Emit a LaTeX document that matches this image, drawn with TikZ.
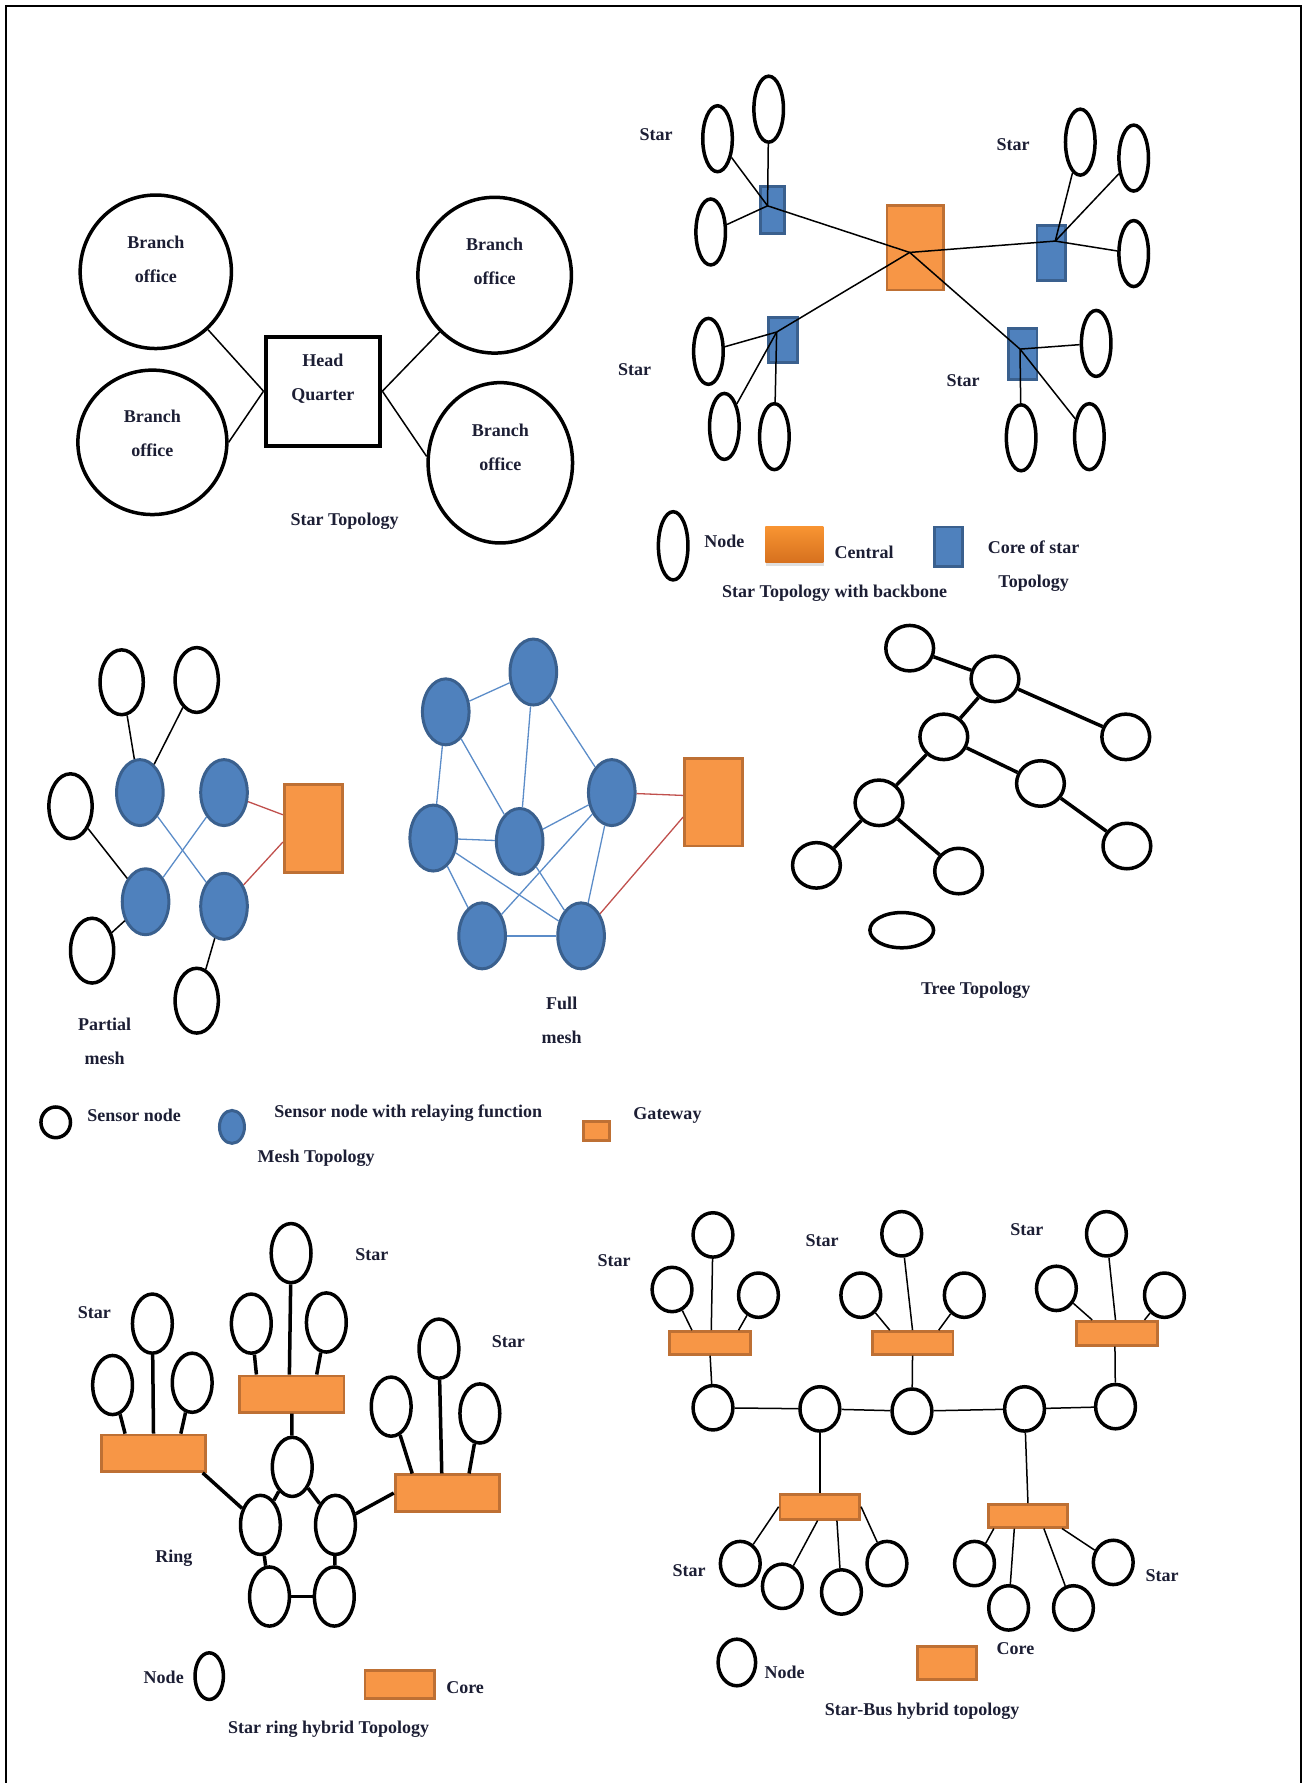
\documentclass[tikz,border=0pt]{standalone}
\usepackage{fontspec}
\setmainfont{Liberation Serif}
\usetikzlibrary{shapes.geometric,calc,shadows}
\definecolor{tcol}{RGB}{28,30,52}
\definecolor{ofill}{RGB}{247,150,70}
\definecolor{oline}{RGB}{190,112,52}
\definecolor{bfill}{RGB}{79,129,189}
\definecolor{bline}{RGB}{58,96,142}
\definecolor{rline}{RGB}{192,80,77}
\definecolor{mline}{RGB}{91,140,200}
\begin{document}
\begin{tikzpicture}[x=1.1366pt,y=-1.1366pt,
 ov/.style 2 args={ellipse, draw=black, fill=white, line width=3.5pt, inner sep=0pt, minimum width={#1*2.2732pt}, minimum height={#2*2.2732pt}},
 bov/.style 2 args={ellipse, draw=bline, fill=bfill, line width=3pt, inner sep=0pt, minimum width={#1*2.2732pt}, minimum height={#2*2.2732pt}},
 orect/.style 2 args={rectangle, draw=oline, fill=ofill, line width=2.8pt, inner sep=0pt, minimum width={#1*1.1366pt}, minimum height={#2*1.1366pt}},
 brect/.style 2 args={rectangle, draw=bline, fill=bfill, line width=2.8pt, inner sep=0pt, minimum width={#1*1.1366pt}, minimum height={#2*1.1366pt}},
 lbl/.style={font=\fontsize{18}{34}\selectfont\bfseries, text=tcol, inner sep=0pt, align=center},
 thinln/.style={line width=1.5pt, black},
 thickln/.style={line width=3.5pt, black},
 mln/.style={line width=1.3pt, mline},
 rln/.style={line width=1.3pt, rline}]
\useasboundingbox (0,0) rectangle (1149,1568);
\draw[line width=2pt] (5,1580) -- (5,5) -- (1144,5) -- (1144,1580);

% ---------------- Star topology ----------------
\node[ov={66.5}{67.5}] (bo1) at (137,239) {};
\node[ov={67.5}{68.5}] (bo2) at (435,242) {};
\node[ov={65.5}{63.5}] (bo3) at (134,389) {};
\node[ov={63.5}{70.5}] (bo4) at (440,407) {};
\node[draw, line width=4pt, fill=white, inner sep=0pt, minimum width={101*1.1366pt}, minimum height={96*1.1366pt}] (hq) at (284,344) {};
\draw[thinln] (bo1) -- (hq.west);
\draw[thinln] (bo3.east) -- (hq.west);
\draw[thinln] (bo2) -- (hq.east);
\draw[thinln] (bo4.175) -- (hq.east);
\node[lbl] (tbo1) at (137,228) {Branch\\office};
\node[lbl] (tbo2) at (435,230) {Branch\\office};
\node[lbl] (tbo3) at (134,381) {Branch\\office};
\node[lbl] (tbo4) at (440,393) {Branch\\office};
\node[lbl] (thq) at (284,333) {Head\\Quarter};
\node[lbl] (tst) at (303,458) {Star Topology};

% ---------------- Star topology with backbone ----------------
\node[orect={50}{74}] (cen) at (805,218) {};
\node[brect={21}{41}] (b1) at (679.5,184.5) {};
\node[brect={25}{49}] (b2) at (924.5,222.5) {};
\node[brect={25}{40}] (b3) at (688.5,299) {};
\node[brect={25}{45}] (b4) at (899.5,311.5) {};
\coordinate (hc) at (800,222);
\coordinate (h1) at (675,181);
\coordinate (h2) at (928,212);
\coordinate (h3) at (683,292);
\coordinate (h4) at (897,307);
\node[ov={13}{29}] (o11) at (631,122) {};
\node[ov={13}{29}] (o12) at (676,96) {};
\node[ov={13}{29}] (o13) at (625,204) {};
\node[ov={13}{29}] (o21) at (950,125) {};
\node[ov={13}{29}] (o22) at (997,139) {};
\node[ov={13}{29}] (o23) at (997,223) {};
\node[ov={13}{29}] (o31) at (623,309) {};
\node[ov={13}{29}] (o32) at (637,375) {};
\node[ov={13}{29}] (o33) at (681,384) {};
\node[ov={13}{29}] (o41) at (964,302) {};
\node[ov={13}{29}] (o42) at (898,385) {};
\node[ov={13}{29}] (o43) at (958,384) {};
\draw[thinln] (h1) -- (hc) -- (h2);
\draw[thinln] (h3) -- (hc) -- (h4);
\draw[thinln] (h1) -- (o11);
\draw[thinln] (h1) -- (o12);
\draw[thinln] (h1) -- (o13);
\draw[thinln] (h2) -- (o21);
\draw[thinln] (h2) -- (o22);
\draw[thinln] (h2) -- (o23);
\draw[thinln] (h3) -- (o31);
\draw[thinln] (h3) -- (o32);
\draw[thinln] (h3) -- (o33);
\draw[thinln] (h4) -- (o41);
\draw[thinln] (h4) -- (o42);
\draw[thinln] (h4) -- (o43);
\node[lbl] (ts1) at (577,118) {Star};
\node[lbl] (ts2) at (891,127) {Star};
\node[lbl] (ts3) at (558,325) {Star};
\node[lbl] (ts4) at (847,335) {Star};
% legend
\node[ov={13}{30}] (lg1) at (592,480) {};
\node[lbl] (lgt1) at (637,476) {Node};
\node[rectangle, inner sep=0pt, minimum width={51*1.1366pt}, minimum height={32*1.1366pt}, top color={rgb,255:red,248;green,148;blue,50}, bottom color={rgb,255:red,214;green,112;blue,30}, drop shadow={opacity=0.25, shadow xshift=1pt, shadow yshift=-3pt}] (lg2) at (698.5,479) {};
\node[lbl] (lgt2) at (760,486) {Central};
\node[brect={25}{35}] (lg3) at (834,481) {};
\node[lbl] (lgt3) at (909,498) {Core of star\\Topology};
\node[lbl] (lgt4) at (734,522) {Star Topology with backbone};

% ---------------- Partial mesh ----------------
\node[ov={19}{28.5}] (w1) at (107,600) {};
\node[ov={19}{28.5}] (w2) at (173,598) {};
\node[ov={19}{28.5}] (w3) at (62,709) {};
\node[ov={19}{28.5}] (w4) at (81,836) {};
\node[ov={19}{28.5}] (w5) at (173,880) {};
\node[bov={20.5}{29}] (p1) at (123,697) {};
\node[bov={20.5}{29}] (p2) at (197,697) {};
\node[bov={20.5}{29}] (p3) at (128,793) {};
\node[bov={20.5}{29}] (p4) at (197,797) {};
\node[orect={51}{77}] (g1) at (275.5,728.5) {};
\draw[thinln] (w1) -- (p1);
\draw[thinln] (w2) -- (p1);
\draw[thinln] (w3) -- (p3);
\draw[thinln] (w4) -- (p3);
\draw[thinln] (w5) -- (p4);
\draw[mln] (p1) -- (p4);
\draw[mln] (p2) -- (p3);
\draw[rln] (p2) -- ($(g1.west)+(0,-12)$);
\draw[rln] (p4) -- ($(g1.west)+(0,12)$);
\node[lbl] (tpm) at (92,916) {Partial\\mesh};

% ---------------- Full mesh ----------------
\node[bov={20.5}{29}] (fa) at (392,626) {};
\node[bov={20.5}{29}] (fb) at (469,591) {};
\node[bov={20.5}{29}] (fc) at (538,697) {};
\node[bov={20.5}{29}] (fd) at (381,737) {};
\node[bov={20.5}{29}] (fe) at (457,740) {};
\node[bov={20.5}{29}] (ff) at (424,823) {};
\node[bov={20.5}{29}] (fg) at (511,823) {};
\node[orect={51}{77}] (g2) at (627.5,705.5) {};
\draw[mln] (fa) -- (fb);
\draw[mln] (fa) -- (fd);
\draw[mln] (fa) -- (fe);
\draw[mln] (fb) -- (fe);
\draw[mln] (fb) -- (fc);
\draw[mln] (fc) -- (fe);
\draw[mln] (fc) -- (ff);
\draw[mln] (fc) -- (fg);
\draw[mln] (fd) -- (fe);
\draw[mln] (fd) -- (ff);
\draw[mln] (fd) -- (fg);
\draw[mln] (fe) -- (fg);
\draw[mln] (ff) -- (fg);
\draw[rln] (fc) -- ($(g2.west)+(0,-6)$);
\draw[rln] (fg) -- ($(g2.west)+(0,13)$);
\node[lbl] (tfm) at (494,897) {Full\\mesh};
% legend
\node[ov={13}{13.5}] (ml1) at (49,987) {};
\node[lbl] (mlt1) at (118,981) {Sensor node};
\node[bov={11}{14.5}] (ml2) at (204,991) {};
\node[lbl] (mlt2) at (359,979) {Sensor node with relaying function};
\node[lbl] (mlt3) at (278,1019) {Mesh Topology};
\node[orect={23}{17}] (ml3) at (524.5,994.5) {};
\node[lbl] (mlt4) at (587,981) {Gateway};

% ---------------- Tree topology ----------------
\node[ov={21}{20}] (n1) at (800,570) {};
\node[ov={21}{20}] (n2) at (875,597) {};
\node[ov={21}{20}] (n3) at (990,648) {};
\node[ov={21}{20}] (n4) at (830,648) {};
\node[ov={21}{20}] (n5) at (915,689) {};
\node[ov={21}{20}] (n6) at (991,744) {};
\node[ov={21}{20}] (n7) at (773,706) {};
\node[ov={21}{20}] (n8) at (718,761) {};
\node[ov={21}{20}] (n9) at (843,766) {};
\node[ov={28}{15.5}] (n10) at (793,818) {};
\draw[thickln] (n1) -- (n2);
\draw[thickln] (n2) -- (n3);
\draw[thickln] (n2) -- (n4);
\draw[thickln] (n4) -- (n5);
\draw[thickln] (n5) -- (n6);
\draw[thickln] (n4) -- (n7);
\draw[thickln] (n7) -- (n8);
\draw[thickln] (n7) -- (n9);
\node[lbl] (ttr) at (858,871) {Tree Topology};

% ---------------- Star ring hybrid ----------------
\node[orect={92}{32}] (cL) at (135,1278) {};
\node[orect={92}{32}] (cM) at (256.5,1226) {};
\node[orect={92}{32}] (cR) at (393.5,1313) {};
\node[ov={17.5}{26}] (l1) at (99,1218) {};
\node[ov={17.5}{26}] (l2) at (134,1164) {};
\node[ov={17.5}{26}] (l3) at (169,1216) {};
\node[ov={17.5}{26}] (m1) at (221,1164) {};
\node[ov={17.5}{26}] (m2) at (256,1102) {};
\node[ov={17.5}{26}] (m3) at (287,1163) {};
\node[ov={17.5}{26}] (r1) at (344,1237) {};
\node[ov={17.5}{26}] (r2) at (386,1186) {};
\node[ov={17.5}{26}] (r3) at (422,1243) {};
\node[ov={17.5}{26}] (rt) at (257,1290) {};
\node[ov={17.5}{26}] (rl) at (229,1341) {};
\node[ov={17.5}{26}] (rr) at (295,1341) {};
\node[ov={17.5}{26}] (rbl) at (237,1404) {};
\node[ov={17.5}{26}] (rbr) at (294,1404) {};
\draw[thickln] (l1) -- ($(cL.north)+(-25,0)$);
\draw[thickln] (l2) -- ($(cL.north)+(0,0)$);
\draw[thickln] (l3) -- ($(cL.north)+(24,0)$);
\draw[thickln] (m1) -- ($(cM.north)+(-31,0)$);
\draw[thickln] (m2) -- ($(cM.north)+(-2,0)$);
\draw[thickln] (m3) -- ($(cM.north)+(22,0)$);
\draw[thickln] (r1) -- ($(cR.north)+(-31,0)$);
\draw[thickln] (r2) -- ($(cR.north)+(-5,0)$);
\draw[thickln] (r3) -- ($(cR.north)+(19,0)$);
\draw[thickln] (cM) -- (rt);
\draw[thickln] (rt) -- (rl);
\draw[thickln] (rt) -- (rr);
\draw[thickln] (rl) -- (rbl);
\draw[thickln] (rr) -- (rbr);
\draw[thickln] (rbl) -- (rbr);
\draw[thickln] ($(cL.south east)+(-4,0)$) -- (rl);
\draw[thickln] (cR.west) -- (rr);
\node[lbl] (tsr1) at (83,1154) {Star};
\node[lbl] (tsr2) at (327,1103) {Star};
\node[lbl] (tsr3) at (447,1180) {Star};
\node[lbl] (tsr4) at (153,1370) {Ring};
\node[lbl] (tsr5) at (144,1475) {Node};
\node[ov={12.5}{20.5}] (srl1) at (184,1474) {};
\node[orect={61}{25}] (srl2) at (351.5,1481.5) {};
\node[lbl] (tsr6) at (409,1484) {Core};
\node[lbl] (tsr7) at (289,1521) {Star ring hybrid Topology};

% ---------------- Star-bus hybrid ----------------
\node[ov={17.5}{19.5}] (k1) at (627,1238) {};
\node[ov={17.5}{19.5}] (k2) at (721,1239) {};
\node[ov={17.5}{19.5}] (k3) at (802,1241) {};
\node[ov={17.5}{19.5}] (k4) at (901,1239) {};
\node[ov={17.5}{19.5}] (k5) at (981,1237) {};
\node[orect={71}{20}] (c1) at (624.5,1181) {};
\node[orect={71}{20}] (c2) at (802.5,1181) {};
\node[orect={71}{21}] (c3) at (982.5,1172.5) {};
\node[orect={70}{22}] (c4) at (721,1325) {};
\node[orect={70}{20}] (c5) at (904,1333) {};
\node[ov={17.5}{19.5}] (s11) at (627,1086) {};
\node[ov={17.5}{19.5}] (s12) at (591,1134) {};
\node[ov={17.5}{19.5}] (s13) at (667,1139) {};
\node[ov={17.5}{19.5}] (s21) at (793,1085) {};
\node[ov={17.5}{19.5}] (s22) at (757,1139) {};
\node[ov={17.5}{19.5}] (s23) at (848,1139) {};
\node[ov={17.5}{19.5}] (s31) at (973,1085) {};
\node[ov={17.5}{19.5}] (s32) at (929,1133) {};
\node[ov={17.5}{19.5}] (s33) at (1024,1139) {};
\node[ov={17.5}{19.5}] (s41) at (651,1375) {};
\node[ov={17.5}{19.5}] (s42) at (688,1395) {};
\node[ov={17.5}{19.5}] (s43) at (740,1400) {};
\node[ov={17.5}{19.5}] (s44) at (780,1375) {};
\node[ov={17.5}{19.5}] (s51) at (857,1375) {};
\node[ov={17.5}{19.5}] (s52) at (887,1414) {};
\node[ov={17.5}{19.5}] (s53) at (944,1414) {};
\node[ov={17.5}{19.5}] (s54) at (979,1374) {};
\draw[thinln] (k1) -- (k2);
\draw[thinln] (k2) -- (k3);
\draw[thinln] (k3) -- (k4);
\draw[thinln] (k4) -- (k5);
\draw[thinln] (c1.south) -- (k1);
\draw[thinln] (c2.south) -- (k3);
\draw[thinln] ($(c3.south)+(-2,0)$) -- (k5);
\draw[thinln] (k2) -- (c4.north);
\draw[thinln] (k4) -- (c5.north);
\draw[thinln] (s11) -- ($(c1.north)+(1,0)$);
\draw[thinln] (s12) -- ($(c1.north)+(-16,0)$);
\draw[thinln] (s13) -- ($(c1.north)+(25,0)$);
\draw[thinln] (s21) -- ($(c2.north)+(0,0)$);
\draw[thinln] (s22) -- ($(c2.north)+(-20,0)$);
\draw[thinln] (s23) -- ($(c2.north)+(23,0)$);
\draw[thinln] (s31) -- ($(c3.north)+(-1.5,0)$);
\draw[thinln] (s32) -- ($(c3.north)+(-22,0)$);
\draw[thinln] (s33) -- ($(c3.north)+(24,0)$);
\draw[thinln] (c4.west) -- (s41);
\draw[thinln] ($(c4.south)+(-2,0)$) -- (s42);
\draw[thinln] ($(c4.south)+(15,0)$) -- (s43);
\draw[thinln] (c4.east) -- (s44);
\draw[thinln] ($(c5.south)+(-30,0)$) -- (s51);
\draw[thinln] ($(c5.south)+(-12,0)$) -- (s52);
\draw[thinln] ($(c5.south)+(14,0)$) -- (s53);
\draw[thinln] ($(c5.south)+(30,0)$) -- (s54);
\node[lbl] (tsb1) at (540,1109) {Star};
\node[lbl] (tsb2) at (723,1091) {Star};
\node[lbl] (tsb3) at (903,1081) {Star};
\node[lbl] (tsb4) at (606,1381) {Star};
\node[lbl] (tsb5) at (1022,1386) {Star};
\node[ov={16.5}{20.5}] (sbl1) at (648,1462) {};
\node[lbl] (tsb6) at (690,1471) {Node};
\node[orect={52}{29}] (sbl2) at (833,1462.5) {};
\node[lbl] (tsb7) at (893,1450) {Core};
\node[lbl] (tsb8) at (811,1505) {Star-Bus hybrid topology};
\end{tikzpicture}
\end{document}
